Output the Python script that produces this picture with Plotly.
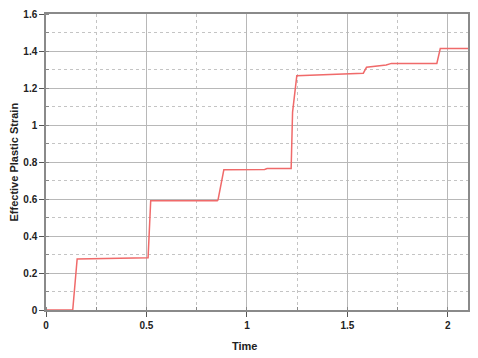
import plotly.graph_objects as go

time = [0, 0.133, 0.155, 0.50, 0.508, 0.521, 0.852, 0.856, 0.885, 1.088, 1.10,
        1.220, 1.227, 1.248, 1.579, 1.595, 1.693, 1.719, 1.945, 1.962, 2.1]
strain = [0, 0, 0.276, 0.281, 0.283, 0.59, 0.59, 0.595, 0.758, 0.760, 0.765,
          0.765, 1.07, 1.266, 1.28, 1.312, 1.324, 1.333, 1.333, 1.413, 1.413]

x_ticks = [0, 0.5, 1, 1.5, 2]
x_labels = ["0", "0.5", "1", "1.5", "2"]
y_ticks = [0, 0.2, 0.4, 0.6, 0.8, 1.0, 1.2, 1.4, 1.6]
y_labels = ["0", "0.2", "0.4", "0.6", "0.8", "1", "1.2", "1.4", "1.6"]

FONT = "Liberation Sans, Arial, sans-serif"

fig = go.Figure()
fig.add_trace(go.Scatter(x=time, y=strain, mode="lines",
                         line=dict(color="#f06a6a", width=1.5),
                         showlegend=False))

axis_common = dict(
    showline=True, linecolor="#8a8a8a", linewidth=1.5, mirror=True,
    showgrid=True, gridcolor="#b8b8b8", gridwidth=1,
    ticks="outside", ticklen=5, tickcolor="#555555", tickwidth=1,
    zeroline=False,
    tickfont=dict(family=FONT, size=10, color="#222222", weight="bold"),
)

fig.update_xaxes(range=[0, 2.1], tickvals=x_ticks, ticktext=x_labels,
                 minor=dict(dtick=0.25, tick0=0, showgrid=True, gridcolor="#c4c4c4",
                            griddash="dot", gridwidth=1, ticks="inside", ticklen=3,
                            tickcolor="#888888"),
                 **axis_common)
fig.update_yaxes(range=[0, 1.6], tickvals=y_ticks, ticktext=y_labels,
                 minor=dict(dtick=0.1, tick0=0, showgrid=True, gridcolor="#c4c4c4",
                            griddash="dot", gridwidth=1, ticks="inside", ticklen=3,
                            tickcolor="#888888"),
                 **axis_common)

fig.add_annotation(text="Time", xref="x", yref="paper", x=0.99, y=0,
                   yshift=-36, xanchor="center", yanchor="middle", showarrow=False,
                   font=dict(family=FONT, size=11, color="#222222", weight="bold"))
fig.add_annotation(text="Effective Plastic Strain", xref="paper", yref="paper",
                   x=0, y=0.5, xshift=-32.5, textangle=-90, xanchor="center",
                   yanchor="middle", showarrow=False,
                   font=dict(family=FONT, size=11, color="#222222", weight="bold"))

fig.update_layout(width=478, height=358,
                  margin=dict(l=46, r=8, t=10, b=48),
                  plot_bgcolor="white", paper_bgcolor="white")

fig.write_html("out.html")
